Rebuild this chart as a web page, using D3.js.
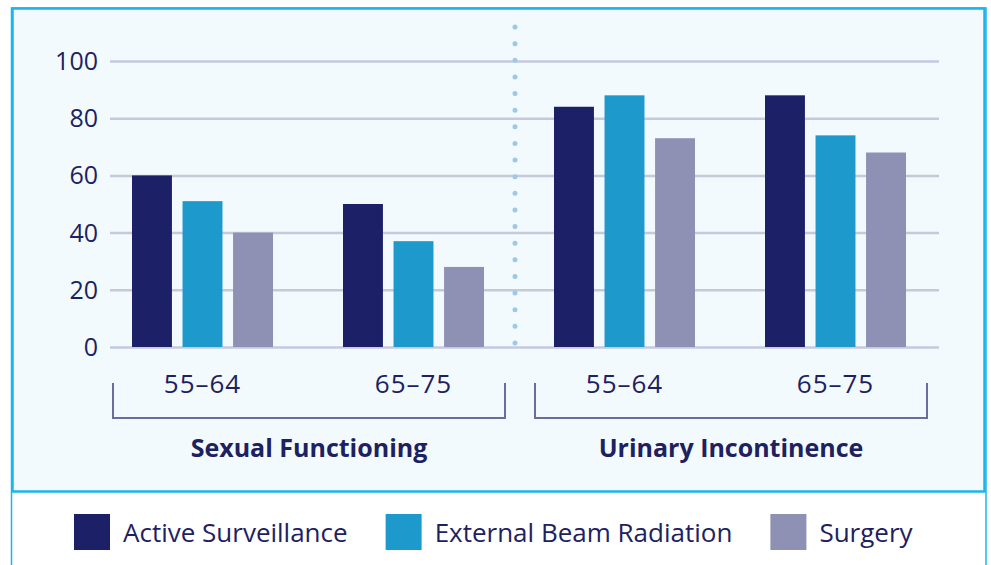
<!DOCTYPE html>
<html>
<head>
<meta charset="utf-8">
<script src="https://cdn.jsdelivr.net/npm/d3@7"></script>
<style>
  body { margin: 0; background: #fff; }
  svg { display: block; font-family: "Open Sans", "Noto Sans", sans-serif; }
</style>
</head>
<body>
<svg id="chart" width="991" height="565"></svg>
<script>
'use strict';

// chart data
var sections = ['Sexual Functioning', 'Urinary Incontinence'];
var ages = ['55\u201364', '65\u201375'];
var series = ['Active Surveillance', 'External Beam Radiation', 'Surgery'];
var colors = ['#1b2067', '#1d9acb', '#8e90b4'];
var yTicks = [0, 20, 40, 60, 80, 100];

// values per series, in order: sexual 55-64, sexual 65-75, urinary 55-64, urinary 65-75
var activeSurveillance = [60, 50, 84, 88];
var externalBeam = [51, 37, 88, 74];
var surgery = [40, 28, 73, 68];

var values = [activeSurveillance, externalBeam, surgery];

var svg = d3.select('#chart');
var ink = '#1e2160';

// flat list of groups (section + age)
var groups = [];
sections.forEach(function(s) {
  ages.forEach(function(a) { groups.push({ section: s, age: a, key: s + '|' + a }); });
});

var x0 = d3.scaleBand().domain(groups.map(function(g) { return g.key; })).range([97, 941]);
var x1 = d3.scaleBand().domain(series).range([-70.5, 70.5]).paddingInner(0.21);
var y = d3.scaleLinear().domain([0, 100]).range([347, 61]);

// outer frame + panel
svg.append('rect')
  .attr('x', 11.5).attr('y', 8).attr('width', 974.5).attr('height', 570)
  .attr('fill', 'none').attr('stroke', '#1cb4ec').attr('stroke-width', 1.5);
svg.append('rect')
  .attr('x', 12.5).attr('y', 8.5).attr('width', 972).attr('height', 483)
  .attr('fill', '#f2fafd').attr('stroke', '#1cb4ec').attr('stroke-width', 2.5);

// gridlines
var grid = svg.append('g')
  .attr('transform', 'translate(110,0)')
  .call(d3.axisLeft(y).tickValues(yTicks).tickSize(-829).tickFormat(''));
grid.select('.domain').remove();
grid.selectAll('line').attr('stroke', '#c6c8dc').attr('stroke-width', 2.5);

// y tick labels
svg.append('g').selectAll('text')
  .data(yTicks)
  .enter().append('text')
  .attr('x', 98)
  .attr('y', function(d) { return y(d); })
  .attr('dy', '0.36em')
  .attr('text-anchor', 'end')
  .attr('fill', ink)
  .style('font-size', '25px')
  .text(function(d) { return d; });

// dotted divider between sections
var divX = x0(groups[2].key) - 4;
svg.append('line')
  .attr('x1', divX).attr('x2', divX)
  .attr('y1', y(100) - 34).attr('y2', y(0) - 4)
  .attr('stroke', '#9dc9e8').attr('stroke-width', 5)
  .attr('stroke-linecap', 'round')
  .attr('stroke-dasharray', '0,' + ((y(0) - 4 - (y(100) - 34)) / 19));

// bars
var gBars = svg.append('g').selectAll('g')
  .data(groups)
  .enter().append('g')
  .attr('transform', function(d) { return 'translate(' + (x0(d.key) + x0.bandwidth() / 2) + ',0)'; });

gBars.selectAll('rect')
  .data(function(d, i) { return series.map(function(s, j) { return { s: s, j: j, v: values[j][i] }; }); })
  .enter().append('rect')
  .attr('x', function(d) { return x1(d.s); })
  .attr('width', x1.bandwidth())
  .attr('y', function(d) { return y(d.v); })
  .attr('height', function(d) { return y(0) - y(d.v); })
  .attr('fill', function(d) { return colors[d.j]; });

// age labels
svg.append('g').selectAll('text')
  .data(groups)
  .enter().append('text')
  .attr('x', function(d) { return x0(d.key) + x0.bandwidth() / 2; })
  .attr('y', 393)
  .attr('text-anchor', 'middle')
  .attr('fill', ink)
  .style('font-size', '26px')
  .style('letter-spacing', '1px')
  .text(function(d) { return d.age; });

// brackets + section labels
sections.forEach(function(s, i) {
  var left = x0(s + '|' + ages[0]) + 16,
      right = x0(s + '|' + ages[ages.length - 1]) + x0.bandwidth() - 14;
  svg.append('path')
    .attr('d', 'M' + left + ',383V418H' + right + 'V383')
    .attr('fill', 'none')
    .attr('stroke', '#6b6e9c')
    .attr('stroke-width', 2);
  svg.append('text')
    .attr('x', (left + right) / 2)
    .attr('y', 457)
    .attr('text-anchor', 'middle')
    .attr('fill', ink)
    .style('font-size', '25px')
    .style('font-weight', 'bold')
    .text(s);
});

// legend, laid out left to right
var lx = 74;
series.forEach(function(s, i) {
  svg.append('rect')
    .attr('x', lx).attr('y', 514)
    .attr('width', 36).attr('height', 36)
    .attr('fill', colors[i]);
  var t = svg.append('text')
    .attr('x', lx + 49)
    .attr('y', 542)
    .attr('fill', ink)
    .style('font-size', '26px')
    .text(s);
  lx += 49 + t.node().getComputedTextLength() + 38;
});
</script>
</body>
</html>
